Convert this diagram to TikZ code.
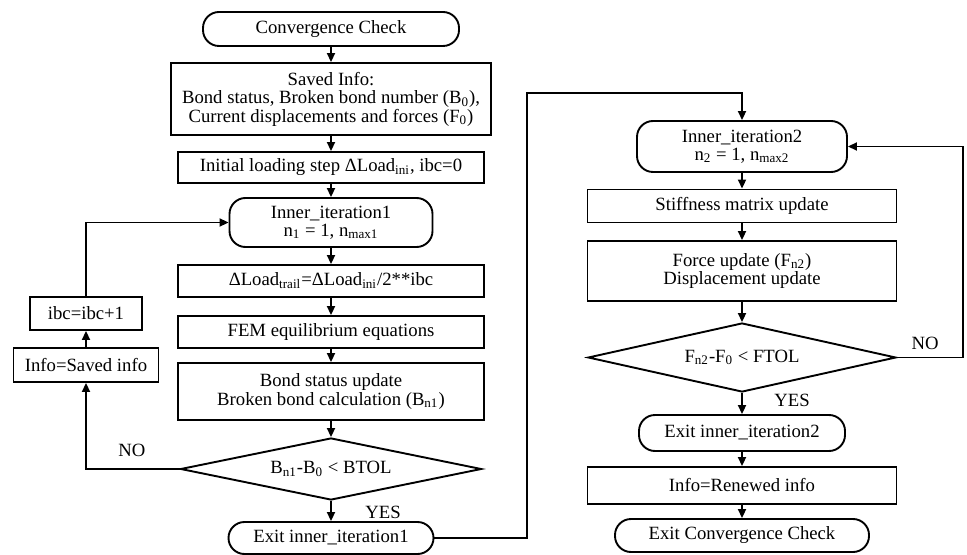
\documentclass[tikz,border=0pt]{standalone}
\usepackage{fontspec}
\setmainfont{Liberation Serif}
\usetikzlibrary{shapes.geometric,arrows.meta,calc}
\tikzset{
  base/.style={draw, line width=0.95pt, inner sep=1pt, align=center,
    font=\fontsize{9.35}{9.25}\selectfont},
  term/.style={base, rounded corners=8pt},
  proc/.style={base},
  cond/.style={base, diamond, aspect=4.8},
  lbl/.style={font=\fontsize{9.35}{9.25}\selectfont},
  arr/.style={line width=0.95pt, -{Triangle[length=4.5pt,width=4pt]}},
  wire/.style={line width=0.95pt}
}
\newcommand{\BOX}[6]{
  \node[#1, minimum width=#4, minimum height=#5] (#2) at #3 {#6};
}

\begin{document}
\begin{tikzpicture}[x=0.5pt,y=-0.5pt]
  \useasboundingbox (0,0) rectangle (967,555);

  \BOX{term}{conv}{(331,29)}{128pt}{17pt}{Convergence Check}
  \BOX{proc}{saved}{(331,99)}{160pt}{36pt}{Saved Info:\\ Bond status, Broken bond number (B\textsubscript{0}),\\ Current displacements and forces (F\textsubscript{0})}
  \BOX{proc}{init}{(331,167.5)}{153pt}{15.5pt}{Initial loading step ΔLoad\textsubscript{ini}, ibc=0}
  \BOX{term}{inner1}{(331,222.5)}{101.5pt}{24.5pt}{Inner\_iteration1\\ n\textsubscript{1} = 1, n\textsubscript{max1}}
  \BOX{proc}{dload}{(331,281)}{153pt}{16pt}{ΔLoad\textsubscript{trail}=ΔLoad\textsubscript{ini}/2**ibc}
  \BOX{proc}{fem}{(331,332)}{153pt}{16pt}{FEM equilibrium equations}
  \BOX{proc}{bond}{(331,391.5)}{153pt}{28.5pt}{Bond status update\\ Broken bond calculation (B\textsubscript{n1})}
  \BOX{cond}{check1}{(331,469)}{150.5pt}{31pt}{B\textsubscript{n1}-B\textsubscript{0} < BTOL}
  \BOX{term}{exit1}{(331,538)}{102.5pt}{16pt}{Exit inner\_iteration1}

  \BOX{proc}{ibc}{(86,313.5)}{56pt}{16.5pt}{ibc=ibc+1}
  \BOX{proc}{restore}{(86,365)}{72.5pt}{17pt}{Info=Saved info}

  \BOX{term}{inner2}{(742,146.5)}{105pt}{25.5pt}{Inner\_iteration2\\ n\textsubscript{2} = 1, n\textsubscript{max2}}
  \BOX{proc}{stiff}{(742,206)}{154.5pt}{16.5pt}{Stiffness matrix update}
  \BOX{proc}{force}{(742,271)}{154.5pt}{30pt}{Force update (F\textsubscript{n2})\\ Displacement update}
  \BOX{cond}{check2}{(742,357.5)}{154pt}{34.5pt}{F\textsubscript{n2}-F\textsubscript{0} < FTOL}
  \BOX{term}{exit2}{(742,433)}{103pt}{18pt}{Exit inner\_iteration2}
  \BOX{proc}{renew}{(742,485.5)}{154.5pt}{18.5pt}{Info=Renewed info}
  \BOX{term}{done}{(742,535.5)}{127pt}{16.5pt}{Exit Convergence Check}

  \node[lbl] (yes1) at (383,512) {YES};
  \node[lbl] (no1) at (132,450) {NO};
  \node[lbl] (yes2) at (792,400) {YES};
  \node[lbl] (no2) at (925,343) {NO};

  \coordinate (jump) at (527,93);
  \coordinate (back) at (963,0);

  \draw[arr] (conv) -- (saved);
  \draw[arr] (saved) -- (init);
  \draw[arr] (init) -- (inner1);
  \draw[arr] (inner1) -- (dload);
  \draw[arr] (dload) -- (fem);
  \draw[arr] (fem) -- (bond);
  \draw[arr] (bond) -- (check1);
  \draw[arr] (check1) -- (exit1);
  \draw[arr] (check1.west) -| (restore.south);
  \draw[arr] (restore) -- (ibc);
  \draw[arr] (ibc.north) |- (inner1.west);
  \draw[arr] (exit1.east) -| (jump) -| (inner2.north);

  \draw[arr] (inner2) -- (stiff);
  \draw[arr] (stiff) -- (force);
  \draw[arr] (force) -- (check2);
  \draw[arr] (check2) -- (exit2);
  \draw[arr] (exit2) -- (renew);
  \draw[arr] (renew) -- (done);
  \draw[arr] (check2.east) -| (back |- inner2.east) -- (inner2.east);
\end{tikzpicture}
\end{document}
